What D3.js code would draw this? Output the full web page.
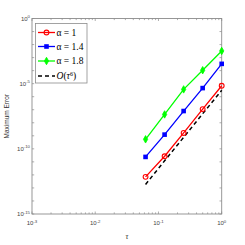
<!DOCTYPE html>
<html><head><meta charset="utf-8">
<script src="https://cdn.jsdelivr.net/npm/d3@7"></script>
<style>body{margin:0;background:#fff}svg{display:block}</style>
</head><body>
<script>
// data (log10 of maximum error)
const tau = [0.0625, 0.125, 0.25, 0.5, 1];
const errA1 = [-12.15, -10.57, -8.78, -6.95, -5.16];
const errA14 = [-10.62, -8.91, -7.10, -5.34, -3.48];
const errA18 = [-9.27, -7.36, -5.44, -3.97, -2.49];
const errRef = [-12.73, -10.92, -9.12, -7.31, -5.51];
const seriesNames = ["α = 1", "α = 1.4", "α = 1.8"];
const xTickExps = [-3, -2, -1, 0];
const yTickExps = [-15, -10, -5, 0];

const W = 245, H = 245;
const L = 32, R = 221.7, T = 18.5, B = 214;
const svg = d3.select("body").append("svg").attr("width", W).attr("height", H);
const x = d3.scaleLog().domain([1e-3, 1]).range([L, R]);
const y = d3.scaleLinear().domain([-15, 0]).range([B, T]);
const axisCol = "#8c8c8c";

// box
svg.append("rect").attr("x", L).attr("y", T).attr("width", R - L).attr("height", B - T)
  .attr("fill", "none").attr("stroke", axisCol).attr("stroke-width", 0.9);

// x ticks (inside, bottom & top)
const xMinor = [];
for (let e = -3; e < 0; e++) for (let k = 1; k <= 9; k++) xMinor.push(k * Math.pow(10, e));
xMinor.push(1);
const tk = svg.append("g").attr("stroke", axisCol).attr("stroke-width", 0.7);
xMinor.forEach(v => {
  const len = (Math.abs(Math.log10(v) - Math.round(Math.log10(v))) < 1e-9) ? 2.5 : 1.6;
  tk.append("line").attr("x1", x(v)).attr("x2", x(v)).attr("y1", B).attr("y2", B - len);
  tk.append("line").attr("x1", x(v)).attr("x2", x(v)).attr("y1", T).attr("y2", T + len);
});
d3.range(-15, 1).forEach(e => {
  const len = 2.2;
  tk.append("line").attr("x1", L).attr("x2", L + len).attr("y1", y(e)).attr("y2", y(e));
  tk.append("line").attr("x1", R).attr("x2", R - len).attr("y1", y(e)).attr("y2", y(e));
});

// tick labels
const lab = svg.append("g").attr("font-family", "Liberation Sans, Arial, sans-serif").attr("fill", "#444");
xTickExps.forEach(e => {
  const t = lab.append("text").attr("x", x(Math.pow(10, e))).attr("y", 225).attr("text-anchor", "middle").attr("font-size", 6);
  t.append("tspan").text("10");
  t.append("tspan").attr("dy", -2.5).attr("font-size", 4.3).text(e);
});
yTickExps.forEach(e => {
  const t = lab.append("text").attr("x", L - 2).attr("y", y(e) + 2).attr("text-anchor", "end").attr("font-size", 6);
  t.append("tspan").text("10");
  t.append("tspan").attr("dy", -2.5).attr("font-size", 4.3).text(e);
});

// axis titles
svg.append("text").attr("transform", `translate(9,${(T + B) / 2}) rotate(-90)`).attr("text-anchor", "middle")
  .attr("font-family", "Liberation Sans, Arial, sans-serif").attr("font-size", 6.5).attr("fill", "#333").text("Maximum Error");
svg.append("text").attr("x", (L + R) / 2).attr("y", 239).attr("text-anchor", "middle")
  .attr("font-family", "Liberation Serif, serif").attr("font-style", "italic").attr("font-size", 8).attr("fill", "#333").text("τ");

// lines
const line = d3.line().x((d, i) => x(tau[i])).y(d => y(d));
svg.append("path").datum(errRef).attr("d", line).attr("fill", "none").attr("stroke", "#000")
  .attr("stroke-width", 1.5).attr("stroke-dasharray", "4,3");

const colors = ["#ff0000", "#0000ff", "#00ff00"];
const data = [errA1, errA14, errA18];
const sym = [d3.symbolCircle, d3.symbolSquare, d3.symbolDiamond];
function marker(g, i, cx, cy) {
  if (i === 0) {
    g.append("circle").attr("cx", cx).attr("cy", cy).attr("r", 2.4).attr("fill", "none")
      .attr("stroke", colors[i]).attr("stroke-width", 1.1);
  } else if (i === 1) {
    g.append("rect").attr("x", cx - 2.3).attr("y", cy - 2.3).attr("width", 4.6).attr("height", 4.6).attr("fill", colors[i]);
  } else {
    g.append("path").attr("d", d3.symbol().type(d3.symbolDiamond).size(16)()).attr("transform", `translate(${cx},${cy})`)
      .attr("fill", colors[i]).attr("stroke", colors[i]).attr("stroke-width", 0.8);
  }
}
data.forEach((s, i) => {
  svg.append("path").datum(s).attr("d", line).attr("fill", "none").attr("stroke", colors[i]).attr("stroke-width", 1.3);
  const g = svg.append("g");
  s.forEach((v, j) => marker(g, i, x(tau[j]), y(v)));
});

// legend
const lg = svg.append("g");
lg.append("rect").attr("x", 35.5).attr("y", 23.5).attr("width", 51.5).attr("height", 59.5)
  .attr("fill", "#fff").attr("stroke", axisCol).attr("stroke-width", 0.8);
const rows = [32.5, 46.5, 61, 76];
seriesNames.forEach((n, i) => {
  lg.append("line").attr("x1", 38).attr("x2", 55).attr("y1", rows[i]).attr("y2", rows[i])
    .attr("stroke", colors[i]).attr("stroke-width", 1.3);
  marker(lg, i, 46.5, rows[i]);
  lg.append("text").attr("x", 56.5).attr("y", rows[i] + 3.3).attr("font-family", "Liberation Serif, serif")
    .attr("font-size", 9.5).attr("fill", "#000").text(n);
});
lg.append("line").attr("x1", 38).attr("x2", 55).attr("y1", rows[3]).attr("y2", rows[3])
  .attr("stroke", "#000").attr("stroke-width", 1.5).attr("stroke-dasharray", "4,3");
const ot = lg.append("text").attr("x", 56.5).attr("y", rows[3] + 3.3).attr("font-family", "Liberation Serif, serif")
  .attr("font-size", 9.5).attr("fill", "#000");
ot.append("tspan").attr("font-style", "italic").text("O");
ot.append("tspan").text("(");
ot.append("tspan").attr("font-style", "italic").text("τ");
ot.append("tspan").attr("dy", -3.5).attr("font-size", 6).text("6");
ot.append("tspan").attr("dy", 3.5).text(")");
</script>
</body></html>
